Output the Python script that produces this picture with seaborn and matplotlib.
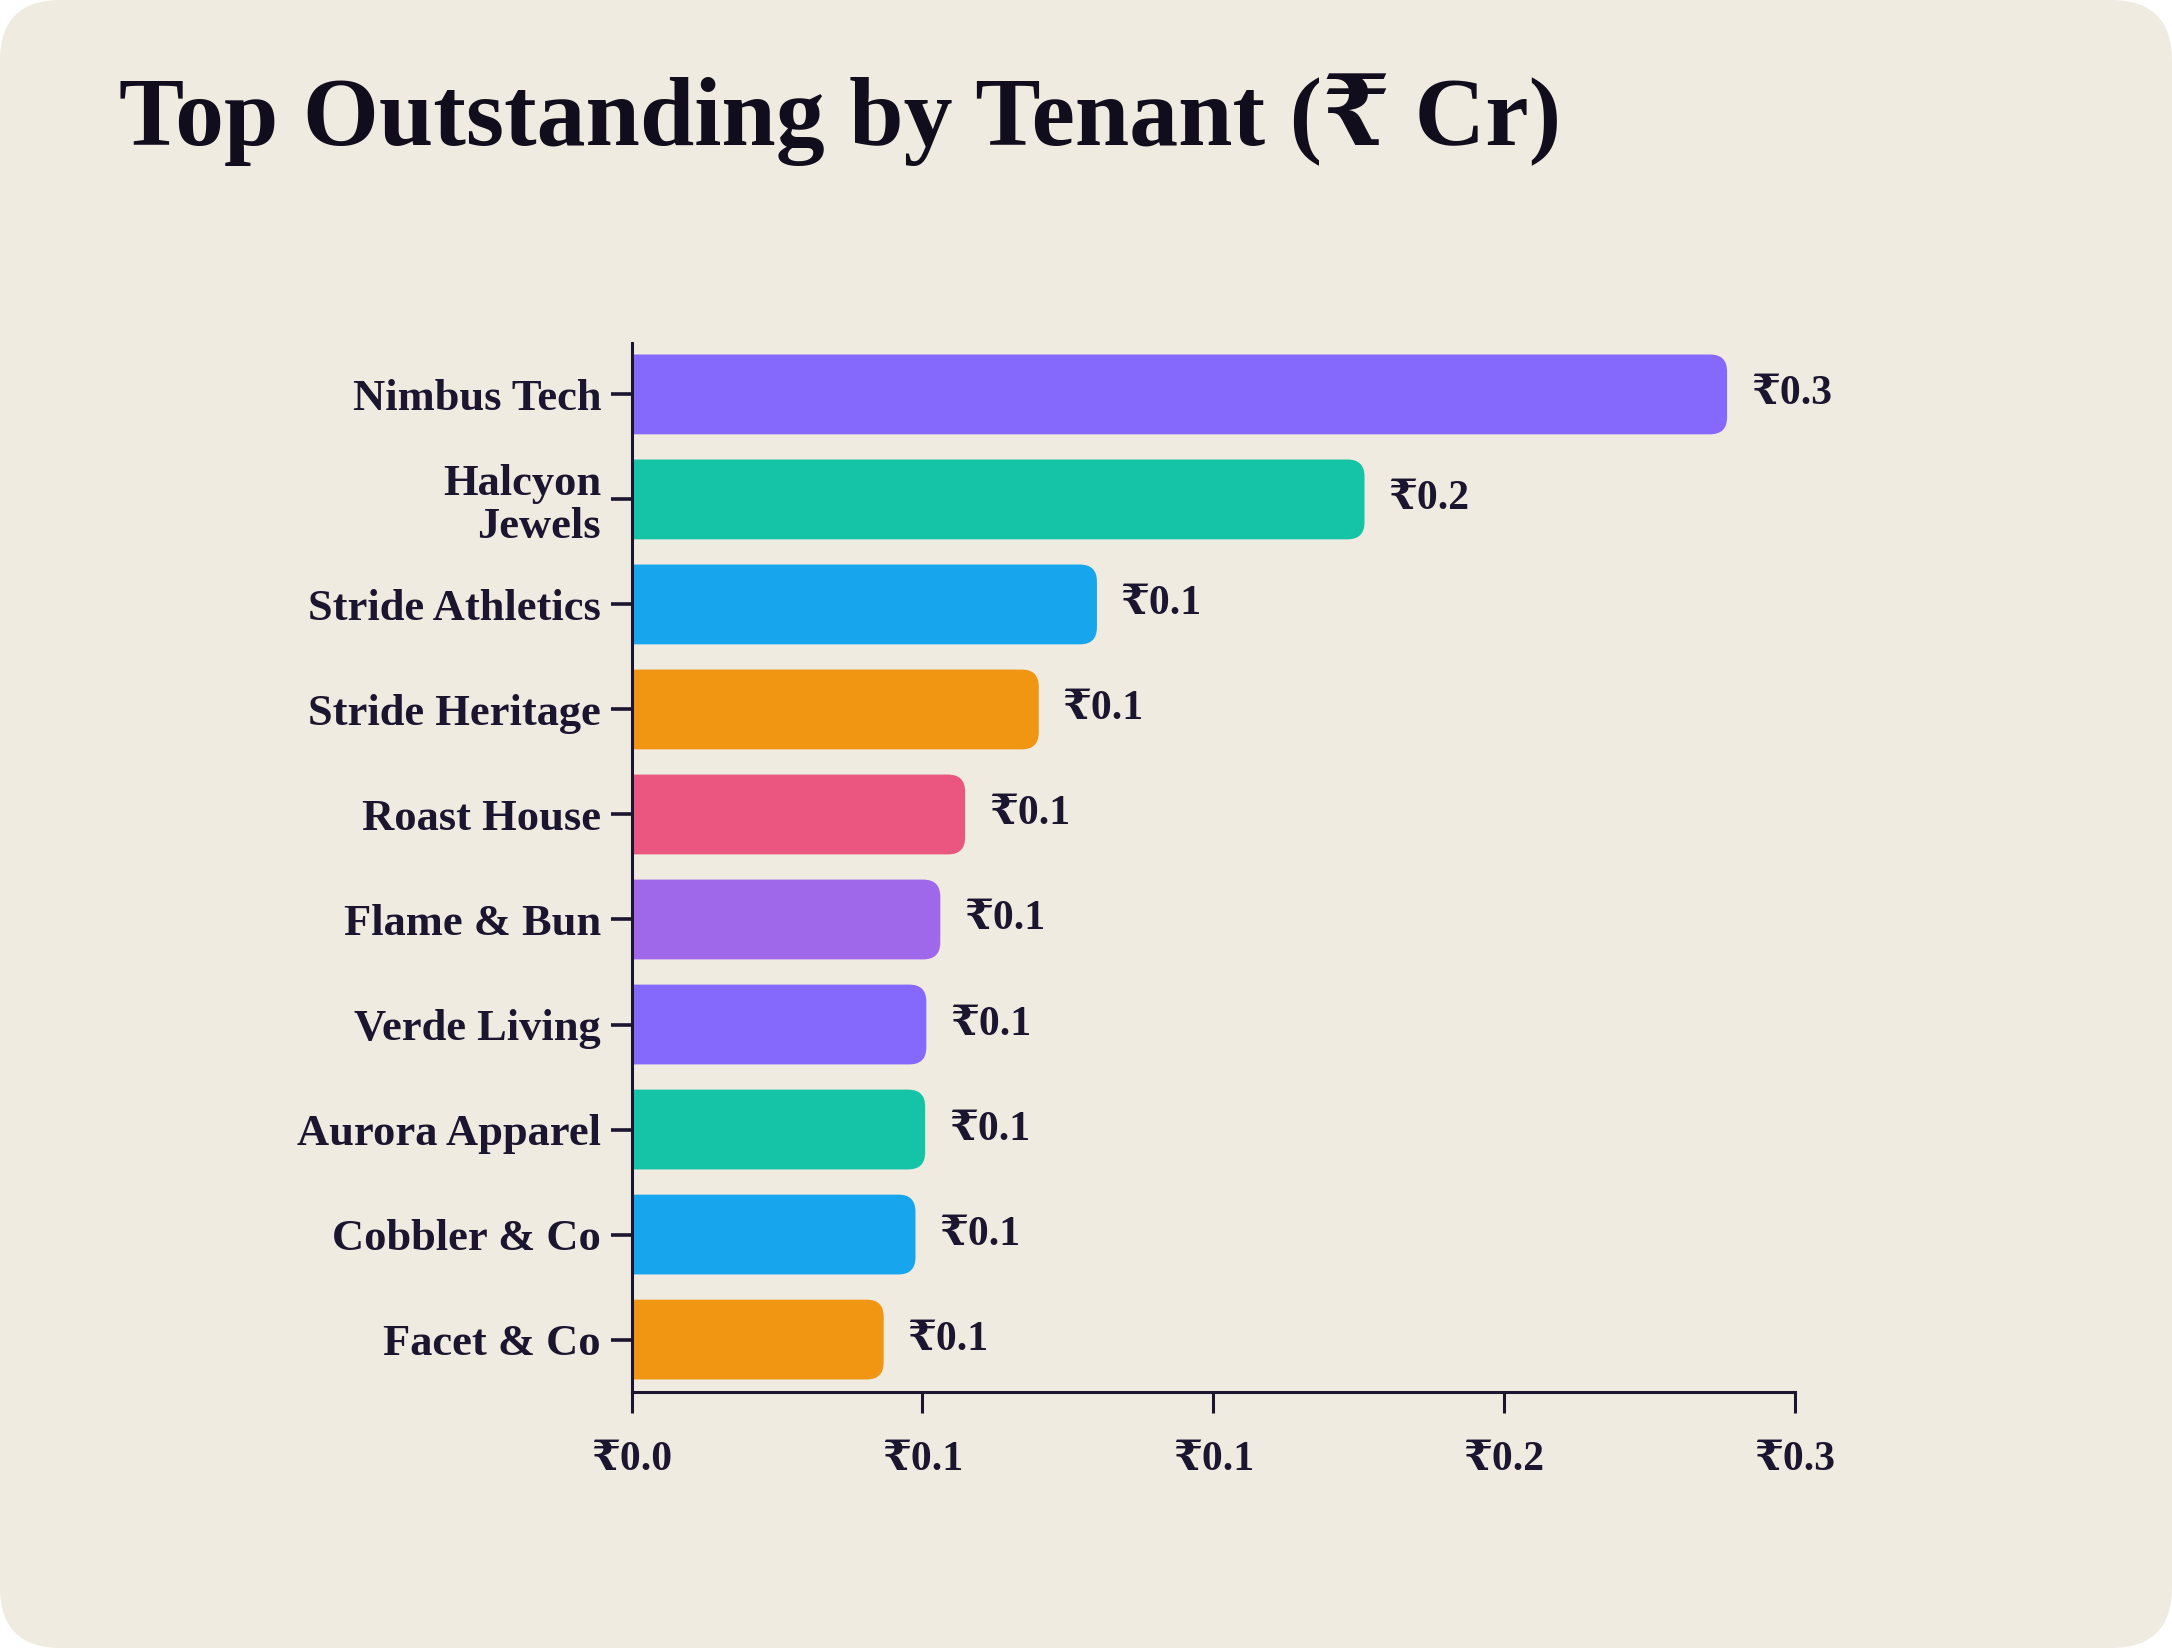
import matplotlib
matplotlib.use("Agg")
import matplotlib.pyplot as plt
from matplotlib.patches import FancyBboxPatch
from matplotlib.ticker import FuncFormatter
import seaborn as sns
import pandas as pd

tenants = ["Nimbus Tech", "Halcyon\nJewels", "Stride Athletics", "Stride Heritage",
           "Roast House", "Flame & Bun", "Verde Living", "Aurora Apparel",
           "Cobbler & Co", "Facet & Co"]
outstanding = [0.2825, 0.189, 0.120, 0.105, 0.086, 0.0796, 0.076, 0.0757, 0.0732, 0.065]
colors = ["#8569FC", "#15C3A6", "#17A6EE", "#F09613", "#EB5681",
          "#9F68EA", "#8569FC", "#15C3A6", "#17A6EE", "#F09613"]
xticks = [0.0, 0.075, 0.15, 0.225, 0.3]

BG = "#F0EBE1"
INK = "#1B1530"
FONT = ["Liberation Serif", "DejaVu Serif", "DejaVu Sans"]

sns.set_theme(style="white")
plt.rcParams["font.family"] = FONT
plt.rcParams["font.weight"] = "bold"

fig = plt.figure(figsize=(10.86, 8.24), dpi=200)
fig.patch.set_facecolor("white")
card = FancyBboxPatch((0, 0), 1, 1, boxstyle="round,pad=0,rounding_size=0.028",
                      transform=fig.transFigure, facecolor=BG, edgecolor="none",
                      mutation_aspect=2172 / 1648, zorder=-10)
fig.patches.append(card)

ax = fig.add_axes([0.2908, 0.1553, 0.8264 - 0.2908, 0.7919 - 0.1553])
ax.set_facecolor("none")

df = pd.DataFrame({"tenant": tenants, "value": outstanding})
sns.barplot(data=df, x="value", y="tenant", hue="tenant", palette=colors,
            legend=False, width=0.76, ax=ax, saturation=1)

ax.set_xlim(0, 0.3)
ax.set_ylim(9.5, -0.49)
fig.canvas.draw()

# convert bars to right-rounded boxes
px_per_x = ax.transData.transform((1, 0))[0] - ax.transData.transform((0, 0))[0]
px_per_y = abs(ax.transData.transform((0, 1))[1] - ax.transData.transform((0, 0))[1])
r_px = 17
r_x = r_px / px_per_x
aspect = px_per_x / px_per_y
for p in list(ax.patches):
    x0, y0 = p.get_x(), p.get_y()
    w, h = p.get_width(), p.get_height()
    fc = p.get_facecolor()
    p.set_visible(False)
    box = FancyBboxPatch((x0 - 2 * r_x, y0), w + 2 * r_x, h,
                         boxstyle=f"round,pad=0,rounding_size={r_x}",
                         mutation_aspect=aspect, facecolor=fc, edgecolor="none",
                         zorder=2)
    box.set_clip_path(ax.patch)
    ax.add_patch(box)

for i, v in enumerate(outstanding):
    ax.annotate(f"₹{v:.1f}", xy=(v, i), xytext=(8.5, 0), textcoords="offset points",
                ha="left", va="center", fontsize=15, fontweight="bold", color=INK,
                family=FONT)

ax.set_xticks(xticks)
ax.xaxis.set_major_formatter(FuncFormatter(lambda x, pos: f"₹{x:.1f}"))
ax.set_xlabel("")
ax.set_ylabel("")
for s in ["top", "right"]:
    ax.spines[s].set_visible(False)
for s in ["left", "bottom"]:
    ax.spines[s].set_color(INK)
    ax.spines[s].set_linewidth(1.1)
ax.tick_params(axis="x", length=7.5, width=1.1, color=INK, pad=10,
               labelsize=15, labelcolor=INK, bottom=True)
ax.tick_params(axis="y", length=7.5, width=1.3, color=INK, pad=3.5,
               labelsize=16, labelcolor=INK, left=True)
for lab in ax.get_xticklabels() + ax.get_yticklabels():
    lab.set_fontweight("bold")
    lab.set_family(FONT)
for lab in ax.get_yticklabels():
    lab.set_linespacing(1.1)

fig.text(0.0548, 0.912, "Top Outstanding by Tenant (₹ Cr)", ha="left", va="baseline",
         fontsize=35.2, fontweight="bold", color="#120D1C", family=FONT)

fig.savefig("out.png", dpi=200, facecolor=fig.get_facecolor())
